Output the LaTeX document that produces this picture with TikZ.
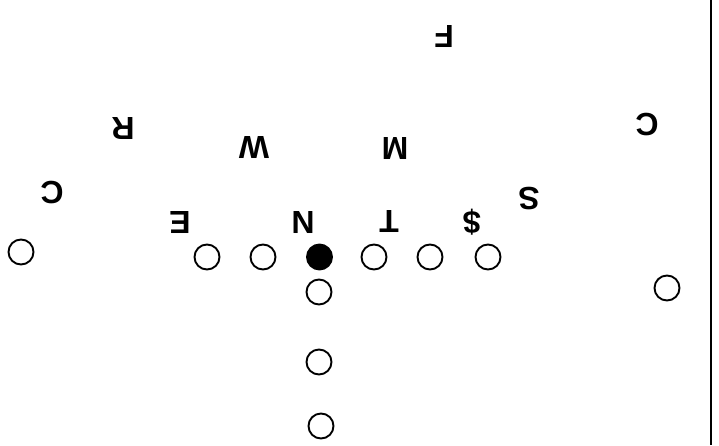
\documentclass[tikz,border=0pt]{standalone}
\usepackage{fontspec}
\setmainfont{Liberation Sans}
\begin{document}
\begin{tikzpicture}[x=1pt,y=-1pt,
  player/.style={circle,draw=black,line width=1.9pt,minimum size=25pt,inner sep=0pt},
  ball/.style={player,fill=black},
  def/.style={inner sep=0pt,rotate=180,font=\fontsize{32}{32}\selectfont\bfseries}]
\useasboundingbox (0,0) rectangle (719,445);
\fill[white] (0,0) rectangle (719,445);
% border line at right
\coordinate (btop) at (711,0);
\coordinate (bbot) at (711,445);
\draw[line width=1.2pt] (btop) -- (bbot);
% offense
\node[player] (lwr) at (21,252) {};
\node[player] (le) at (207,257) {};
\node[player] (lg) at (263,257) {};
\node[ball] (c) at (319.5,257) {};
\node[player] (rg) at (374,257) {};
\node[player] (rt) at (430,257) {};
\node[player] (te) at (488,257) {};
\node[player] (rwr) at (667,288) {};
\node[player] (qb) at (319,292) {};
\node[player] (fb) at (319,362) {};
\node[player] (tb) at (321,426) {};
% defense (letters printed upside down)
\node[def] (F) at (444,37) {F};
\node[def] (C2) at (647,125) {C};
\node[def] (R) at (123,129) {R};
\node[def] (W) at (254,148) {W};
\node[def] (M) at (395,149) {M};
\node[def] (C1) at (52,193) {C};
\node[def] (S) at (529,199) {S};
\node[def] (E) at (180,223) {E};
\node[def] (N) at (303,223) {N};
\node[def] (T) at (389,222) {T};
\node[def] (D) at (472,222) {\$};
\end{tikzpicture}
\end{document}
